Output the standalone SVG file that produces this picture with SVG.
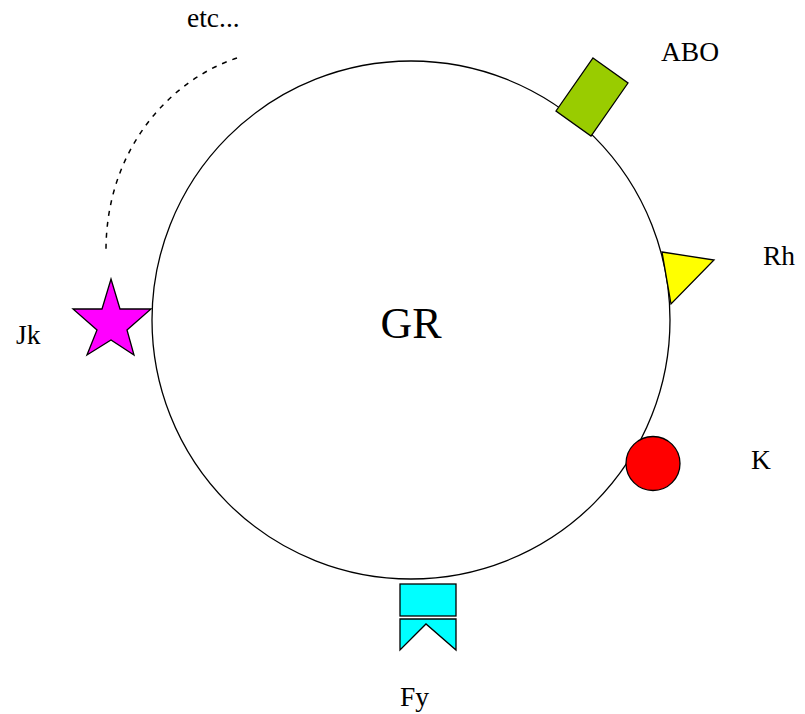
<svg xmlns="http://www.w3.org/2000/svg" width="805" height="714" viewBox="0 0 805 714">
<style>
.lbl{font-family:"Liberation Serif","Times New Roman",serif;font-size:27.5px;fill:#000}
.sh{stroke:#000;stroke-width:1.3;stroke-linejoin:miter}
</style>
<rect width="805" height="714" fill="#fff"/>
<g id="connectors">
<path d="M237,58 C170,80 105,150 106,253" fill="none" stroke="#000" stroke-width="1.5" stroke-dasharray="5,6"/>
</g>
<g id="GR">
<circle cx="411" cy="320" r="259" fill="#fff" stroke="#000" stroke-width="1.3"/>
<text class="lbl" x="411" y="338" text-anchor="middle" style="font-size:44px">GR</text>
</g>
<g id="ABO">
<polygon class="sh" points="593,58 628,83 591,136 556,111" fill="#99cc00"/>
<text class="lbl" x="661" y="61">ABO</text>
</g>
<g id="Rh">
<polygon class="sh" points="662,252 714,260 671,304" fill="#ffff00"/>
<text class="lbl" x="763" y="265">Rh</text>
</g>
<g id="K">
<circle class="sh" cx="653" cy="463.5" r="27" fill="#ff0000"/>
<text class="lbl" x="751" y="469">K</text>
</g>
<g id="Fy">
<rect class="sh" x="400" y="584" width="56" height="32" fill="#00ffff"/>
<polygon class="sh" points="400,619 456,619 456,650 426,624 400,650" fill="#00ffff"/>
<text class="lbl" x="400" y="706">Fy</text>
</g>
<g id="Jk">
<polygon class="sh" points="111,279 120,309 151,309 127,330 134,355 111,340 87,355 97,330 73,309 102,309" fill="#ff00ff"/>
<text class="lbl" x="16" y="344">Jk</text>
</g>
<g id="etc">
<text class="lbl" x="187" y="27">etc...</text>
</g>
</svg>
